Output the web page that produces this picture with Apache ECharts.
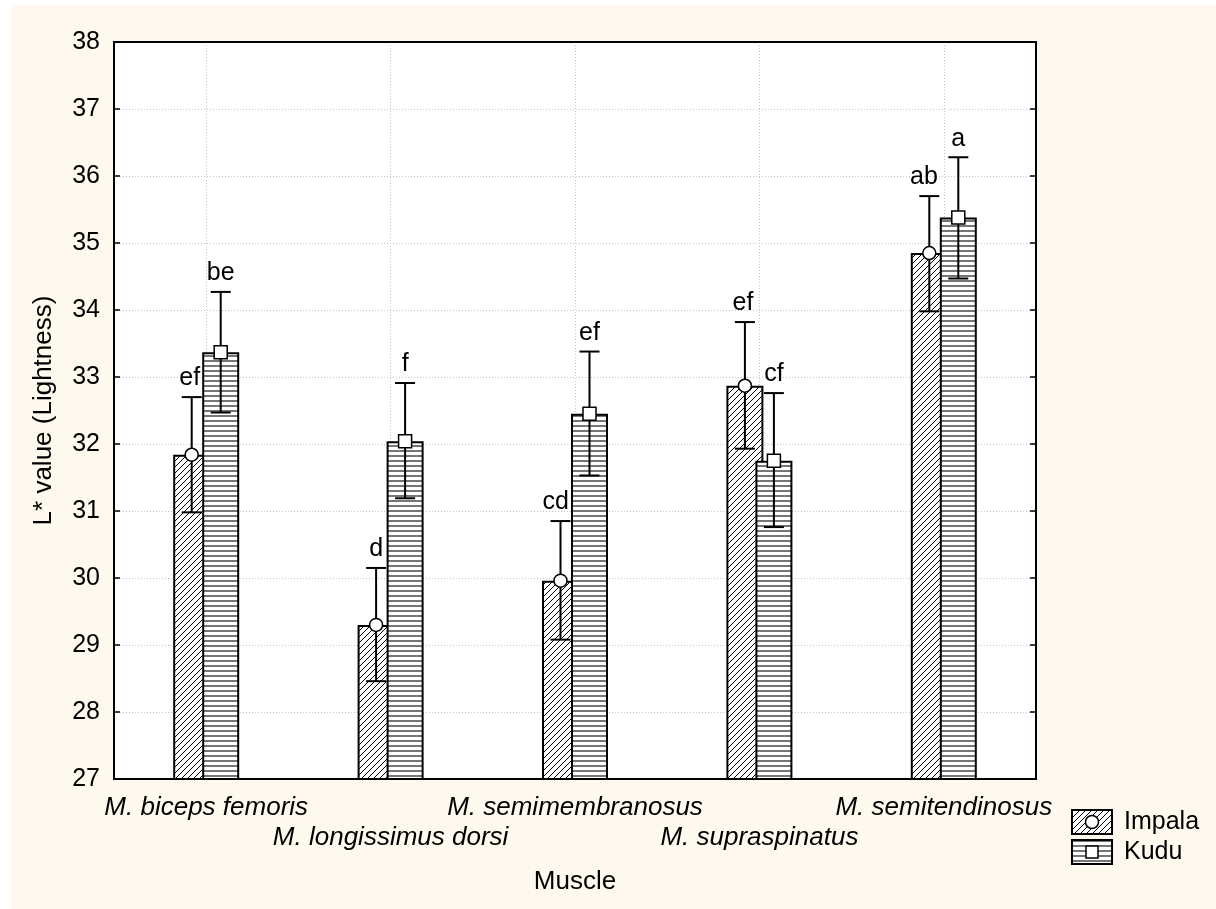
<!DOCTYPE html>
<html><head><meta charset="utf-8">
<script src="https://cdn.jsdelivr.net/npm/echarts@6/dist/echarts.min.js"></script>
<style>html,body{margin:0;padding:0;background:#fff}#c{width:1216px;height:909px}</style>
</head><body><div id="c"></div>
<script>
// ---------- data ----------
const categories = ['M. biceps femoris', 'M. longissimus dorsi', 'M. semimembranosus', 'M. supraspinatus', 'M. semitendinosus'];
const seriesNames = ['Impala', 'Kudu'];
const impalaMean = [31.84, 29.30, 29.96, 32.87, 34.85];
const impalaLow  = [30.98, 28.46, 29.08, 31.93, 33.98];
const impalaHigh = [32.70, 30.15, 30.85, 33.82, 35.70];
const kuduMean   = [33.37, 32.04, 32.45, 31.75, 35.38];
const kuduLow    = [32.47, 31.19, 31.53, 30.76, 34.47];
const kuduHigh   = [34.27, 32.91, 33.38, 32.76, 36.28];
const impalaLetters = ['ef', 'd', 'cd', 'ef', 'ab'];
const kuduLetters   = ['be', 'f', 'ef', 'cf', 'a'];
const yMin = 27, yMax = 38, yStep = 1;
const xTitle = 'Muscle';
const yTitle = 'L* value (Lightness)';

// ---------- styles ----------
const FONT = '"Liberation Sans", Arial, sans-serif';
const BAR_W = 37, HALF_SEP = 14.5, CAP = 10;

function hatchCanvas() {
  const s = 6, c = document.createElement('canvas'); c.width = s; c.height = s;
  const g = c.getContext('2d');
  g.fillStyle = '#fff'; g.fillRect(0, 0, s, s);
  g.strokeStyle = '#000'; g.lineWidth = 1;
  g.beginPath();
  g.moveTo(-1, s + 1); g.lineTo(s + 1, -1);
  g.moveTo(-1, 1); g.lineTo(1, -1);
  g.moveTo(s - 1, s + 1); g.lineTo(s + 1, s - 1);
  g.stroke();
  return c;
}
function linesCanvas() {
  const c = document.createElement('canvas'); c.width = 5; c.height = 5;
  const g = c.getContext('2d');
  g.fillStyle = '#fff'; g.fillRect(0, 0, 5, 5);
  g.fillStyle = '#767676'; g.fillRect(0, 0, 5, 2);
  return c;
}
const hatchPat = { image: hatchCanvas(), repeat: 'repeat' };
const linePat = { image: linesCanvas(), repeat: 'repeat' };

const mctx = document.createElement('canvas').getContext('2d');
mctx.font = '25px ' + FONT;
function textW(t) { return mctx.measureText(t).width; }

function errSeries(kind, means, lows, highs, letters) {
  const isImp = kind === seriesNames[0];
  return {
    type: 'custom', name: kind + ' err', z: 5, clip: false,
    encode: { x: 0, y: 1 },
    data: means.map((m, i) => [i, m, lows[i], highs[i]]),
    renderItem(params, api) {
      const i = api.value(0);
      const c = api.coord([i, api.value(1)]);
      const lo = api.coord([i, api.value(2)])[1];
      const hi = api.coord([i, api.value(3)])[1];
      const cx = c[0] + (isImp ? -HALF_SEP : HALF_SEP);
      const my = c[1];
      const ls = { stroke: '#000', lineWidth: 2 };
      const txt = letters[params.dataIndex];
      let tx = cx;
      if (isImp) {
        const kuduLeft = c[0] + HALF_SEP - BAR_W / 2;
        tx = Math.min(cx, kuduLeft - 2 - textW(txt) / 2);
      }
      const children = [
        { type: 'line', shape: { x1: cx, y1: lo, x2: cx, y2: hi }, style: ls },
        { type: 'line', shape: { x1: cx - CAP, y1: lo, x2: cx + CAP, y2: lo }, style: ls },
        { type: 'line', shape: { x1: cx - CAP, y1: hi, x2: cx + CAP, y2: hi }, style: ls },
        isImp
          ? { type: 'circle', shape: { cx: cx, cy: my, r: 6.5 }, style: { fill: '#fff', stroke: '#000', lineWidth: 1.5 } }
          : { type: 'rect', shape: { x: cx - 6.5, y: my - 6.5, width: 13, height: 13 }, style: { fill: '#fff', stroke: '#000', lineWidth: 1.5 } },
        { type: 'text', style: { text: txt, x: tx, y: hi - 18.5, align: 'center', verticalAlign: 'middle', fontSize: 25, fontFamily: FONT, fill: '#000' } }
      ];
      return { type: 'group', children };
    }
  };
}

const chart = echarts.init(document.getElementById('c'), null, { renderer: 'canvas' });

const legendItems = [];
seriesNames.forEach((nm, k) => {
  const y0 = 810 + k * 30;
  legendItems.push({
    type: 'rect', z: 20, shape: { x: 1072, y: y0, width: 40, height: 24 },
    style: { fill: k === 0 ? hatchPat : linePat, stroke: '#000', lineWidth: 2 }
  });
  legendItems.push(k === 0
    ? { type: 'circle', z: 21, shape: { cx: 1092, cy: y0 + 12, r: 6.5 }, style: { fill: '#fff', stroke: '#000', lineWidth: 1.5 } }
    : { type: 'rect', z: 21, shape: { x: 1086, y: y0 + 6, width: 12, height: 12 }, style: { fill: '#fff', stroke: '#000', lineWidth: 1.5 } });
  legendItems.push({
    type: 'text', z: 20, style: { text: nm, x: 1124, y: y0 + 12, verticalAlign: 'middle', fontSize: 25, fontFamily: FONT, fill: '#000' }
  });
});

chart.setOption({
  backgroundColor: '#fff',
  animation: false,
  textStyle: { fontFamily: FONT },
  graphic: [
    { type: 'rect', z: -10, silent: true, shape: { x: 10, y: 5, width: 1206, height: 904 }, style: { fill: '#fdf9ef' } },
    ...legendItems
  ],
  grid: { left: 114, top: 42, right: 180, bottom: 130, show: true, backgroundColor: '#fff', borderColor: '#000', borderWidth: 2, containLabel: false },
  xAxis: [{
    type: 'category', data: categories, position: 'bottom',
    axisLine: { lineStyle: { color: '#000', width: 2 } },
    axisTick: { inside: true, length: 4, alignWithLabel: true, lineStyle: { color: '#000', width: 1.5 } },
    splitLine: { show: true, alignWithLabel: true, lineStyle: { color: '#c4c4c4', type: [1, 2], width: 1 } },
    axisLabel: {
      interval: 0, color: '#000', fontSize: 26, fontStyle: 'italic', fontFamily: FONT, lineHeight: 30, margin: 14,
      formatter: (v, i) => (i % 2 ? '\n' + v : v)
    },
    name: xTitle, nameLocation: 'middle', nameGap: 90,
    nameTextStyle: { color: '#000', fontSize: 26, lineHeight: 26, fontFamily: FONT }
  }, {
    type: 'category', data: categories, position: 'top',
    axisLine: { lineStyle: { color: '#000', width: 2 } },
    axisTick: { inside: true, length: 4, alignWithLabel: true, lineStyle: { color: '#000', width: 1.5 } },
    axisLabel: { show: false }, splitLine: { show: false }
  }],
  yAxis: [{
    type: 'value', min: yMin, max: yMax, interval: yStep, position: 'left',
    axisLine: { show: true, lineStyle: { color: '#000', width: 2 } },
    axisTick: { show: true, inside: true, length: 6, lineStyle: { color: '#000', width: 1.5 } },
    splitLine: { show: true, lineStyle: { color: '#c4c4c4', type: [1, 2], width: 1 } },
    axisLabel: { color: '#000', fontSize: 25, fontFamily: FONT, margin: 14 },
    name: yTitle, nameLocation: 'middle', nameGap: 57, nameRotate: 90,
    nameTextStyle: { color: '#000', fontSize: 26, lineHeight: 26, fontFamily: FONT }
  }, {
    type: 'value', min: yMin, max: yMax, interval: yStep, position: 'right',
    axisLine: { show: true, lineStyle: { color: '#000', width: 2 } },
    axisTick: { show: true, inside: true, length: 6, lineStyle: { color: '#000', width: 1.5 } },
    splitLine: { show: false }, axisLabel: { show: false }
  }],
  series: [
    {
      type: 'bar', name: seriesNames[0], data: impalaMean, barWidth: BAR_W, barGap: '-21.6%', z: 2,
      itemStyle: { color: hatchPat, borderColor: '#000', borderWidth: 2 }
    },
    {
      type: 'bar', name: seriesNames[1], data: kuduMean, barWidth: BAR_W, barGap: '-21.6%', z: 3,
      itemStyle: { color: linePat, borderColor: '#000', borderWidth: 2 }
    },
    errSeries(seriesNames[0], impalaMean, impalaLow, impalaHigh, impalaLetters),
    errSeries(seriesNames[1], kuduMean, kuduLow, kuduHigh, kuduLetters)
  ]
});
</script></body></html>
